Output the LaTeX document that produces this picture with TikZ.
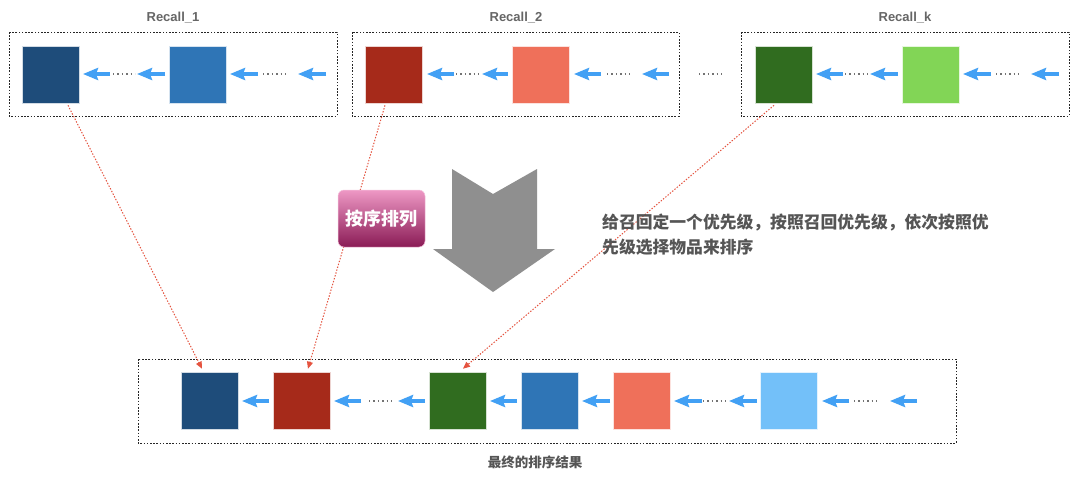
\documentclass[tikz,border=0pt]{standalone}
\usepackage{fontspec}
\newfontfamily\lat{Liberation Sans}
\newfontfamily\cjk{Noto Sans CJK SC}
\usetikzlibrary{arrows.meta,calc}
\definecolor{sqA}{HTML}{1E4C7A}
\definecolor{sqB}{HTML}{2F75B6}
\definecolor{sqC}{HTML}{A62A1A}
\definecolor{sqD}{HTML}{EF705A}
\definecolor{sqE}{HTML}{306C1F}
\definecolor{sqF}{HTML}{82D556}
\definecolor{sqG}{HTML}{73C0F9}
\definecolor{arrblue}{HTML}{42A0F4}
\definecolor{reddot}{HTML}{E5533F}
\definecolor{bigarr}{HTML}{8F8F8F}
\definecolor{txtgray}{HTML}{555555}
\definecolor{ttlgray}{HTML}{666666}
\definecolor{pinktop}{HTML}{EE98C5}
\definecolor{pinkbot}{HTML}{8A1B55}
\tikzset{
  sq/.style={draw=white!80!#1, line width=0.6pt, fill=#1, minimum size=57pt, inner sep=0pt},
  dotbox/.style={draw=black!85, line width=0.9pt, dash pattern=on 1.6pt off 1.6pt},
  barrow/.style={arrblue, line width=4pt, -{Stealth[length=15pt,width=12pt,inset=2pt]}},
  grdots/.style={draw=black!55, line width=1.5pt, dash pattern=on 1.4pt off 3pt},
  redcon/.style={reddot, line width=1pt, dash pattern=on 1.4pt off 1.6pt, -{Triangle[length=7pt,width=6pt]}},
  ttl/.style={font=\lat\bfseries\fontsize{13}{15}\selectfont, text=ttlgray, inner sep=0pt, anchor=base},
}
\newcommand\barr[3]{\draw[barrow] (#2,#3) -- (#1,#3);}
\newcommand\gdots[3]{\draw[grdots] (#1,#3) -- (#2,#3);}
\begin{document}
\begin{tikzpicture}[x=1pt,y=-1pt]
\useasboundingbox (0,0) rectangle (1080,477);
\fill[white] (0,0) rectangle (1080,477);

% ---- titles
\node[ttl] (t1) at (173,21) {Recall\_1};
\node[ttl] (t2) at (516,21) {Recall\_2};
\node[ttl] (t3) at (905,21) {Recall\_k};

% ---- group boxes
\draw[dotbox] (9,32) rectangle (337,116);
\draw[dotbox] (352,32) rectangle (679,116);
\draw[dotbox] (741,32) rectangle (1069,116);

% ---- group squares
\node[sq=sqA] (s11) at (50.5,74.5) {};
\node[sq=sqB] (s12) at (197.5,74.5) {};
\node[sq=sqC] (s21) at (393.5,74.5) {};
\node[sq=sqD] (s22) at (540.5,74.5) {};
\node[sq=sqE] (s31) at (783.5,74.5) {};
\node[sq=sqF] (s32) at (930.5,74.5) {};

% ---- group arrows
\barr{83}{110}{74} \gdots{113}{135}{74} \barr{137}{165}{74}
\barr{230}{258}{74} \gdots{263}{288}{74} \barr{298}{326}{74}
\barr{427}{454}{74} \gdots{456}{480}{74} \barr{482}{508}{74}
\barr{574}{601}{74} \gdots{607}{632}{74} \barr{642}{669}{74}
\gdots{699}{725}{74}
\barr{816}{843}{74} \gdots{845}{869}{74} \barr{870}{898}{74}
\barr{963}{991}{74} \gdots{996}{1022}{74} \barr{1031}{1059}{74}

% ---- big gray arrow
\fill[bigarr] (452,169) -- (493,194) -- (537,169) -- (537,249) -- (555,249)
  -- (493,292) -- (433,249) -- (452,249) -- cycle;

% ---- bottom box
\draw[dotbox] (138,359) rectangle (956,443);
\node[sq=sqA] (b1) at (209.5,400.5) {};
\node[sq=sqC] (b2) at (301.5,400.5) {};
\node[sq=sqE] (b3) at (458,400.5) {};
\node[sq=sqB] (b4) at (549.5,400.5) {};
\node[sq=sqD] (b5) at (641.5,400.5) {};
\node[sq=sqG] (b6) at (788.5,400.5) {};

\barr{242}{269}{401}
\barr{334}{361}{401} \gdots{369}{394}{401} \barr{398}{425}{401}
\barr{490}{517}{401}
\barr{582}{610}{401}
\barr{674}{702}{401} \gdots{703}{728}{401} \barr{729}{757}{401}
\barr{822}{849}{401} \gdots{854}{879}{401} \barr{890}{917}{401}

% ---- red dotted connectors
\draw[redcon] ([xshift=17.5pt,yshift=-2pt]s11.south) -- ([xshift=-7.5pt,yshift=3pt]b1.north);
\draw[redcon] ([xshift=-8.5pt,yshift=-2pt]s21.south) -- ([xshift=6.5pt,yshift=3pt]b2.north);
\draw[redcon] ([xshift=-9.5pt,yshift=-2pt]s31.south) -- ([xshift=5pt,yshift=3pt]b3.north);

% ---- label box
\node[rounded corners=6pt, top color=pinktop, bottom color=pinkbot, draw=pinktop!60!white, line width=0.5pt,
      minimum width=87pt, minimum height=57pt, inner sep=0pt,
      font=\cjk\bfseries\fontsize{18}{20}\selectfont, text=white] (lab) at (381.5,218.5) {按序排列};

% ---- explanation text
\node[anchor=base west, inner sep=0pt, align=left, text=txtgray,
      font=\cjk\bfseries\fontsize{16.8}{25}\selectfont] (expl) at (602,253.5)
  {给召回定一个优先级，按照召回优先级，依次按照优\\先级选择物品来排序};

% ---- bottom caption
\node[anchor=base, inner sep=0pt, text=txtgray,
      font=\cjk\bfseries\fontsize{13.5}{15}\selectfont] (cap) at (535,467) {最终的排序结果};
\end{tikzpicture}
\end{document}
